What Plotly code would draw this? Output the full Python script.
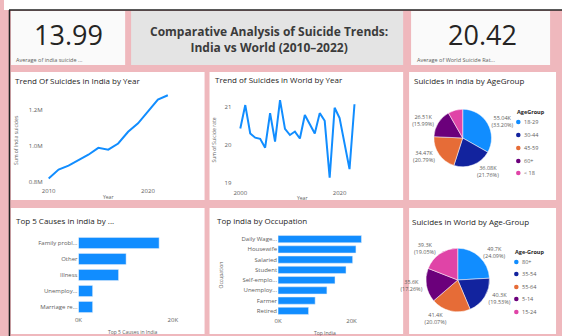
import plotly.graph_objects as go

W, H = 562, 336

# ---------------- data ----------------
india_years = list(range(2010, 2023))
india_suicides_m = [0.822, 0.871, 0.893, 0.921, 0.953, 0.991, 0.981,
                    1.015, 1.080, 1.127, 1.190, 1.258, 1.282]

world_years = list(range(2000, 2024))
world_rate = [20.43, 21.04, 20.30, 20.19, 20.16, 19.93, 20.83, 20.09,
              21.17, 20.42, 20.26, 20.35, 20.17, 20.78, 20.54, 20.30,
              20.83, 20.63, 19.15, 20.97, 20.70, 20.00, 19.37, 21.06]

india_age_groups = ["18-29", "30-44", "45-59", "60+", "< 18"]
india_age_k = [55.04, 36.08, 34.47, 26.51, 13.70]

world_age_groups = ["80+", "35-54", "55-64", "5-14", "15-24"]
world_age_k = [49.7, 40.3, 41.4, 35.6, 39.3]

cause_labels = ["Family probl...", "Other", "Illness", "Unemploy...", "Marriage re..."]
cause_k = [17.1, 10.1, 8.5, 3.0, 3.0]

occupation_labels = ["Daily Wage...", "Housewife", "Salaried", "Student",
                     "Self-emplo...", "Unemploy...", "Farmer", "Retired"]
occupation_k = [22.7, 21.2, 20.3, 18.5, 15.5, 13.3, 10.1, 8.3]

kpi_india = "13.99"
kpi_world = "20.42"

# ---------------- styling ----------------
FONT = "Segoe UI, Open Sans, sans-serif"
BLUE = "#118DFF"
PIE_COLORS = ["#118DFF", "#12239E", "#E66C37", "#6B007B", "#E044A7"]
PINK = "#efb8bd"
TITLE_C = "#252423"
AXIS_C = "#605E5C"


def fx(px):
    return px / W


def fy(py):
    return 1 - py / H


def dom_x(a, b):
    return [fx(a), fx(b)]


def dom_y(top, bottom):
    return [fy(bottom), fy(top)]


fig = go.Figure()

# line: India
fig.add_trace(go.Scatter(x=india_years, y=india_suicides_m, mode="lines",
                         line=dict(color=BLUE, width=2), xaxis="x", yaxis="y",
                         showlegend=False))
# line: World
fig.add_trace(go.Scatter(x=world_years, y=world_rate, mode="lines",
                         line=dict(color=BLUE, width=2), xaxis="x2", yaxis="y2",
                         showlegend=False))
# bars: causes
fig.add_trace(go.Bar(x=cause_k, y=cause_labels, orientation="h",
                     marker=dict(color=BLUE), xaxis="x3", yaxis="y3",
                     showlegend=False))
# bars: occupation
fig.add_trace(go.Bar(x=occupation_k, y=occupation_labels, orientation="h",
                     marker=dict(color=BLUE), xaxis="x4", yaxis="y4",
                     showlegend=False))

# pies
india_tt = ["%{value:.2f}K<br>(%{percent:.2%})"] * 4 + [""]
fig.add_trace(go.Pie(labels=india_age_groups, values=india_age_k, sort=False,
                     direction="clockwise", rotation=0,
                     marker=dict(colors=PIE_COLORS, line=dict(color="white", width=0.5)),
                     textposition="outside", texttemplate=india_tt,
                     textfont=dict(size=5.5, color=AXIS_C, family=FONT),
                     domain=dict(x=dom_x(433, 491), y=dom_y(109, 167)),
                     showlegend=False, hoverinfo="label+value+percent"))
fig.add_trace(go.Pie(labels=world_age_groups, values=world_age_k, sort=False,
                     direction="clockwise", rotation=0,
                     marker=dict(colors=PIE_COLORS, line=dict(color="white", width=0.5)),
                     textposition="outside",
                     texttemplate="%{value:.1f}K<br>(%{percent:.2%})",
                     textfont=dict(size=5.5, color=AXIS_C, family=FONT),
                     domain=dict(x=dom_x(425, 489), y=dom_y(248, 312)),
                     showlegend=False, hoverinfo="label+value+percent"))

tickfont = dict(size=6, color=AXIS_C, family=FONT)
axis_common = dict(showgrid=False, zeroline=False, showline=False, ticks="",
                   tickfont=tickfont, fixedrange=True)

shapes = []
annotations = []


def rect(x0, y0, x1, y1, fill):
    shapes.append(dict(type="rect", xref="paper", yref="paper",
                       x0=fx(x0), x1=fx(x1), y0=fy(y1), y1=fy(y0),
                       fillcolor=fill, line=dict(width=0), layer="below"))


def text(x, y, s, size=8, color=TITLE_C, xanchor="left", bold=False, angle=0):
    annotations.append(dict(x=fx(x), y=fy(y), xref="paper", yref="paper",
                            text=f"<b>{s}</b>" if bold else s, showarrow=False,
                            xanchor=xanchor, yanchor="middle", textangle=angle,
                            font=dict(size=size, color=color, family=FONT)))


# page frame
rect(0, 0, W, 10, "white")
# cards of the header row
rect(7, 11, 122, 65, "#fafafa")
rect(128, 11, 402, 65, "#e4e4e4")
rect(410, 11, 550, 65, "#fafafa")
# visual panels
for (x0, x1) in [(7, 202), (207, 402), (408, 556)]:
    rect(x0, 72, x1, 200, "white")
    rect(x0, 208, x1, 334, "white")
shapes.append(dict(type="line", xref="paper", yref="paper", x0=fx(5), x1=1,
                   y0=fy(10), y1=fy(10), line=dict(color="#222", width=1.5)))
shapes.append(dict(type="line", xref="paper", yref="paper", x0=fx(5.5), x1=fx(5.5),
                   y0=0, y1=fy(10), line=dict(color="#222", width=1.5)))

# header texts
text(65, 35, kpi_india, size=27, color=TITLE_C, xanchor="center")
text(10, 60, "Average of india suicide ...", size=5.5, color=AXIS_C)
text(482, 35, kpi_world, size=27, color=TITLE_C, xanchor="center")
text(414, 60, "Average of World Suicide Rat...", size=5.5, color=AXIS_C)
text(267, 39, "<b>Comparative Analysis of Suicide Trends:<br>India vs World (2010–2022)</b>",
     size=12, color="#3b3b3b", xanchor="center")

# panel titles
text(9, 80, "Trend Of Suicides in India by Year")
text(211, 79, "Trend of Suicides in World by Year")
text(411, 80, "Suicides in india by AgeGroup")
text(10, 220, "Top 5 Causes in india by ...")
text(213, 220, "Top india by Occupation")
text(409, 221, "Suicides in World by Age-Group")

# axis titles
text(105, 197, "Year", size=5, color=AXIS_C, xanchor="center")
text(300, 198, "Year", size=5, color=AXIS_C, xanchor="center")
text(12, 140, "Sum of India suicides", size=5, color=AXIS_C, xanchor="center", angle=-90)
text(212, 140, "Sum of Suicide rate", size=5, color=AXIS_C, xanchor="center", angle=-90)
text(130, 332, "Top 5 Causes in India", size=5, color=AXIS_C, xanchor="center")
text(323, 333, "Top India", size=5, color=AXIS_C, xanchor="center")
text(219, 275, "Occupation", size=5, color=AXIS_C, xanchor="center", angle=-90)


# legends for the two pies
def pie_legend(title, labels, x, title_y, item_ys):
    text(x - 3, title_y, title, size=5.5, color=TITLE_C, bold=True)
    r = 2.3
    for lab, col, yy in zip(labels, PIE_COLORS, item_ys):
        shapes.append(dict(type="circle", xref="paper", yref="paper",
                           x0=fx(x - r), x1=fx(x + r), y0=fy(yy + r), y1=fy(yy - r),
                           fillcolor=col, line=dict(width=0)))
        text(x + 4, yy, lab, size=5.5, color=AXIS_C)


pie_legend("AgeGroup", india_age_groups, 518, 112, [122, 135, 148, 161, 173])
pie_legend("Age-Group", world_age_groups, 516, 252, [262, 274, 287, 299, 312])

fig.update_layout(
    width=W, height=H, margin=dict(l=0, r=0, t=0, b=0),
    paper_bgcolor=PINK, plot_bgcolor="rgba(0,0,0,0)",
    font=dict(family=FONT),
    showlegend=False, bargap=0.3,
    shapes=shapes, annotations=annotations,
    xaxis=dict(domain=dom_x(40, 170), range=[2009.5, 2022.5],
               tickvals=[2010, 2020], anchor="y", **axis_common),
    yaxis=dict(domain=dom_y(92, 186), range=[0.78, 1.30],
               tickvals=[0.8, 1.0, 1.2], ticktext=["0.8M", "1.0M", "1.2M"],
               anchor="x", **axis_common),
    xaxis2=dict(domain=dom_x(230, 365), range=[1998.4, 2025.4],
                tickvals=[2000, 2020], anchor="y2", **axis_common),
    yaxis2=dict(domain=dom_y(92, 188), range=[18.88, 21.38],
                tickvals=[19, 20, 21], anchor="x2", **axis_common),
    xaxis3=dict(domain=dom_x(75, 185), range=[0, 23.16],
                tickvals=[0, 20], ticktext=["0K", "20K"], anchor="y3", **axis_common),
    yaxis3=dict(domain=dom_y(235, 315), autorange="reversed", anchor="x3",
                **axis_common),
    xaxis4=dict(domain=dom_x(276, 370), range=[0, 25.4],
                tickvals=[0, 20], ticktext=["0K", "20K"], anchor="y4", **axis_common),
    yaxis4=dict(domain=dom_y(234, 316), autorange="reversed", anchor="x4",
                **axis_common),
)

fig.write_html("out.html")
